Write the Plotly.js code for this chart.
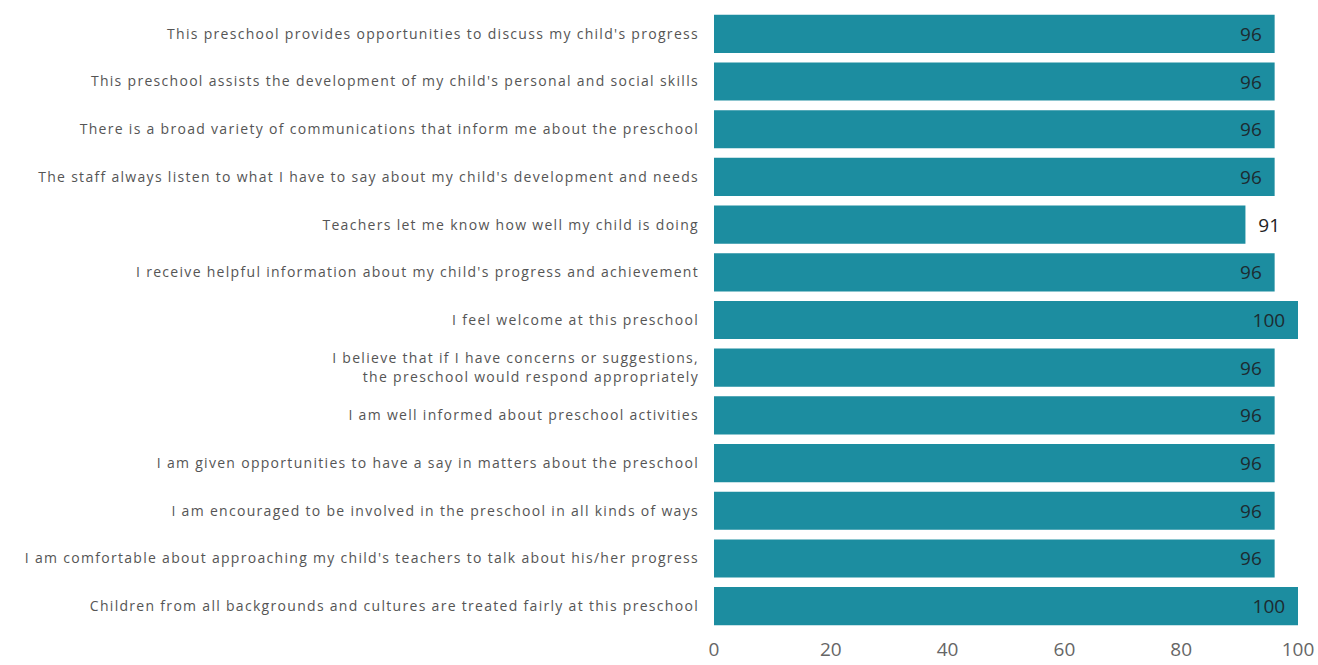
<!DOCTYPE html>
<html>
<head>
<meta charset="utf-8">
<script src="https://cdn.plot.ly/plotly-3.0.1.min.js"></script>
<style>
html,body{margin:0;padding:0;background:#fff;}
#chart{width:1318px;height:665px;}
#chart .ytick text{letter-spacing:1.3px;}
</style>
</head>
<body>
<div id="chart"></div>
<script>
const categories = [
  "This preschool provides opportunities to discuss my child's progress",
  "This preschool assists the development of my child's personal and social skills",
  "There is a broad variety of communications that inform me about the preschool",
  "The staff always listen to what I have to say about my child's development and needs",
  "Teachers let me know how well my child is doing",
  "I receive helpful information about my child's progress and achievement",
  "I feel welcome at this preschool",
  "I believe that if I have concerns or suggestions,<br>the preschool would respond appropriately",
  "I am well informed about preschool activities",
  "I am given opportunities to have a say in matters about the preschool",
  "I am encouraged to be involved in the preschool in all kinds of ways",
  "I am comfortable about approaching my child's teachers to talk about his/her progress",
  "Children from all backgrounds and cultures are treated fairly at this preschool"
];
const values = [96, 96, 96, 96, 91, 96, 100, 96, 96, 96, 96, 96, 100];
const tickValues = [0, 20, 40, 60, 80, 100];

const NB = '\u00a0';
const textPos = values.map(v => v < 95 ? 'outside' : 'inside');
const labels = values.map(v => v < 95 ? NB + NB + String(v) : String(v) + NB + NB);

const trace = {
  type: 'bar',
  orientation: 'h',
  x: values,
  y: categories,
  marker: {color: '#1c8da0'},
  text: labels,
  textposition: textPos,
  insidetextanchor: 'end',
  textangle: 0,
  constraintext: 'none',
  insidetextfont: {family: 'Open Sans, sans-serif', size: 19, color: '#1d2b30'},
  outsidetextfont: {family: 'Open Sans, sans-serif', size: 19, color: '#222'},
  cliponaxis: false,
  hoverinfo: 'skip'
};

const layout = {
  width: 1318,
  height: 665,
  margin: {l: 714, r: 20, t: 10, b: 35},
  paper_bgcolor: '#fff',
  plot_bgcolor: '#fff',
  bargap: 0.2,
  showlegend: false,
  xaxis: {
    range: [0, 100],
    tickvals: tickValues,
    ticktext: tickValues.map(String),
    showgrid: false,
    zeroline: false,
    showline: false,
    ticks: '',
    ticklabelstandoff: 6,
    tickfont: {family: 'Open Sans, sans-serif', size: 19, color: '#666'}
  },
  yaxis: {
    autorange: 'reversed',
    showgrid: false,
    zeroline: false,
    showline: false,
    ticks: '',
    ticklabelstandoff: 14,
    tickfont: {family: 'Open Sans, sans-serif', size: 14, color: '#555'}
  }
};

Plotly.newPlot('chart', [trace], layout, {displayModeBar: false, staticPlot: true});
</script>
</body>
</html>
